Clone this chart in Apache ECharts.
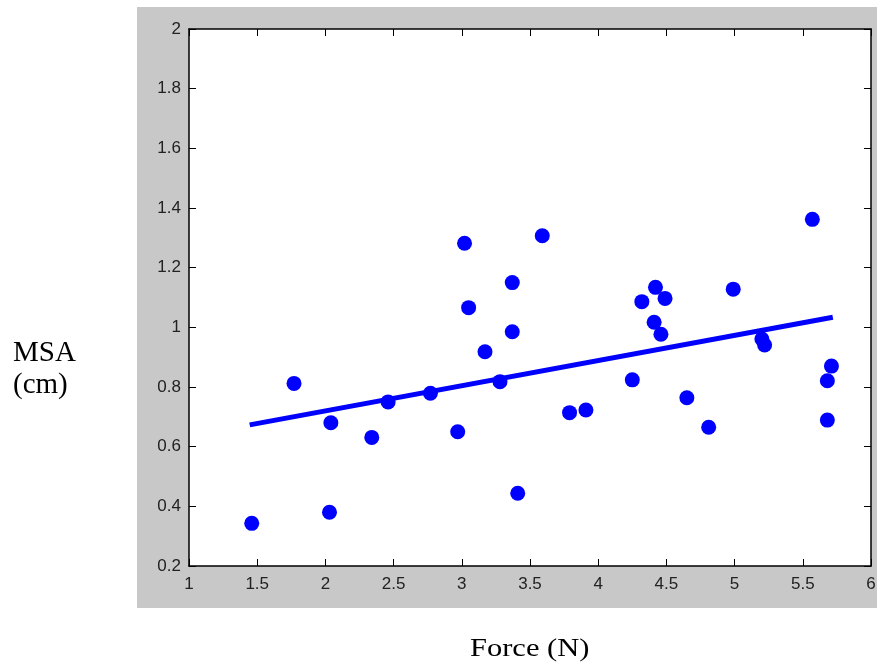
<!DOCTYPE html>
<html>
<head>
    <meta charset="utf-8">
    <title>MSA vs Force</title>
    <script src="https://cdn.jsdelivr.net/npm/echarts@6/dist/echarts.min.js"></script>
    <style>
        html, body { margin: 0; padding: 0; background: #ffffff; }
        #chart { width: 877px; height: 666px; }
    </style>
</head>
<body>
<div id="chart"></div>
<script type="text/javascript">
    // 测得的数据点 (Force N, MSA cm)
    var forceVals = [1.46, 1.77, 2.03, 2.04, 2.34, 2.46, 2.77, 2.97, 3.02, 3.05, 3.17, 3.28,
        3.37, 3.37, 3.41, 3.59, 3.79, 3.91, 4.25, 4.32, 4.42, 4.49, 4.41, 4.46,
        4.65, 4.81, 4.99, 5.20, 5.22, 5.57, 5.71, 5.68, 5.68];
    var msaVals = [0.343, 0.812, 0.38, 0.68, 0.631, 0.75, 0.779, 0.65, 1.282, 1.066, 0.918, 0.818,
        1.15, 0.985, 0.444, 1.307, 0.714, 0.723, 0.824, 1.086, 1.134, 1.097, 1.017, 0.977,
        0.764, 0.665, 1.128, 0.961, 0.941, 1.362, 0.870, 0.821, 0.689];
    // 拟合直线两端
    var fitX = [1.445, 5.72];
    var fitY = [0.673, 1.034];

    var xTicks = { min: 1, max: 6, interval: 0.5 };
    var yTicks = { min: 0.2, max: 2, interval: 0.2 };

    var points = forceVals.map(function (x, i) { return [x, msaVals[i]]; });
    var fitLine = fitX.map(function (x, i) { return [x, fitY[i]]; });

    var labelStyle = { fontFamily: 'Liberation Sans, Arial, sans-serif', fontSize: 17, color: '#222' };
    var tickStyle = { show: true, inside: true, length: 7, lineStyle: { color: '#000', width: 1 } };
    var lineStyle = { show: true, lineStyle: { color: '#000', width: 1.5 } };

    var myChart = echarts.init(document.getElementById('chart'));
    var option = {
        animation: false,
        backgroundColor: '#ffffff',
        graphic: [
            {
                type: 'rect', z: -10, silent: true,
                shape: { x: 137, y: 7, width: 740, height: 601 },
                style: { fill: '#c8c8c8' }
            },
            {
                type: 'text', left: 13, top: 337,
                style: {
                    text: 'MSA\n(cm)', font: '29px "Liberation Serif", "Times New Roman", serif',
                    lineHeight: 32, fill: '#000'
                }
            },
            {
                type: 'text', x: 470, y: 637, scaleX: 1.22,
                style: {
                    text: 'Force (N)', font: '25px "Liberation Serif", "Times New Roman", serif',
                    fill: '#000'
                }
            }
        ],
        grid: {
            left: 189, top: 29, right: 6, bottom: 100,
            show: true, backgroundColor: '#ffffff', borderWidth: 0,
            outerBoundsMode: 'none'
        },
        xAxis: [
            {
                type: 'value', position: 'bottom',
                min: xTicks.min, max: xTicks.max, interval: xTicks.interval,
                axisLine: lineStyle, axisTick: tickStyle, splitLine: { show: false },
                axisLabel: Object.assign({ margin: 10, hideOverlap: false }, labelStyle)
            },
            {
                type: 'value', position: 'top',
                min: xTicks.min, max: xTicks.max, interval: xTicks.interval,
                axisLine: lineStyle, axisTick: tickStyle, splitLine: { show: false },
                axisLabel: { show: false }
            }
        ],
        yAxis: [
            {
                type: 'value', position: 'left',
                min: yTicks.min, max: yTicks.max, interval: yTicks.interval,
                axisLine: lineStyle, axisTick: tickStyle, splitLine: { show: false },
                axisLabel: Object.assign({ margin: 8, hideOverlap: false }, labelStyle)
            },
            {
                type: 'value', position: 'right',
                min: yTicks.min, max: yTicks.max, interval: yTicks.interval,
                axisLine: lineStyle, axisTick: tickStyle, splitLine: { show: false },
                axisLabel: { show: false }
            }
        ],
        series: [
            {
                type: 'line', xAxisIndex: 0, yAxisIndex: 0,
                data: fitLine, symbol: 'none',
                lineStyle: { color: '#0000ff', width: 5 }
            },
            {
                type: 'scatter', xAxisIndex: 0, yAxisIndex: 0,
                data: points, symbol: 'circle', symbolSize: 15,
                itemStyle: { color: '#0000ff', opacity: 1 }
            }
        ]
    };
    myChart.setOption(option);
</script>
</body>
</html>
